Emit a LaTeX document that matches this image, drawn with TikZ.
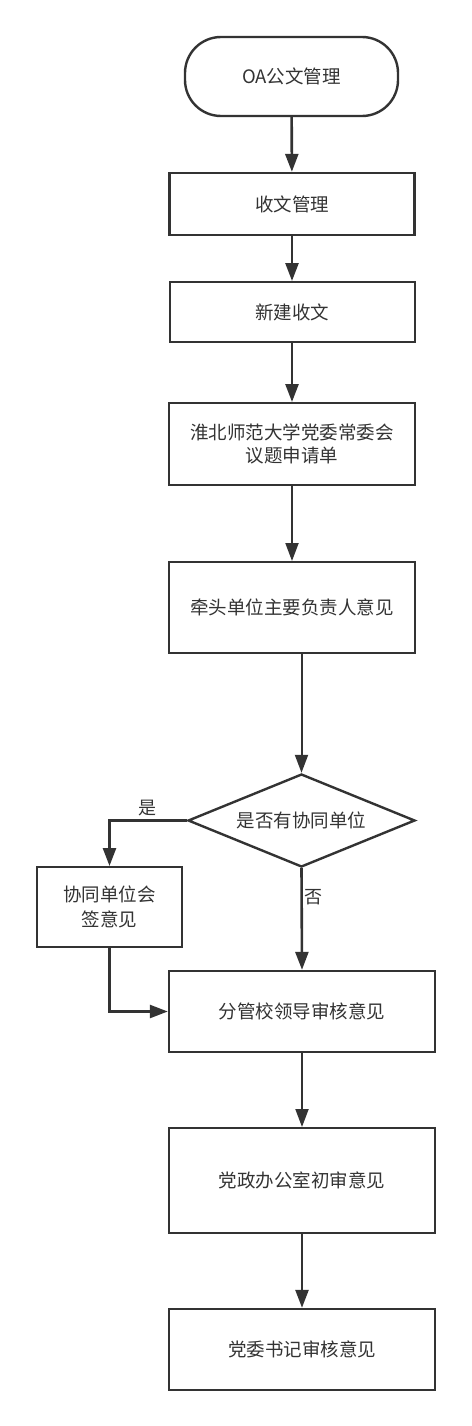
\documentclass[tikz,border=0pt]{standalone}
\usepackage{fontspec}
\setmainfont{Noto Sans CJK SC}
\usetikzlibrary{arrows.meta,shapes.geometric,calc}
\definecolor{ink}{HTML}{333333}
\begin{document}
\begin{tikzpicture}[x=1pt,y=-1pt,
  every node/.style={font=\fontsize{18.5}{24}\selectfont, text=ink},
  box/.style={draw=ink, line width=2.4pt, rectangle, inner sep=0pt, align=center},
  thinbox/.style={box, line width=2pt},
  term/.style={box, rounded corners=36pt},
  decision/.style={draw=ink, line width=2.4pt, diamond, aspect=2.4, inner sep=0pt},
  flow/.style={draw=ink, line width=2.6pt, -{Triangle[length=18pt,width=13pt]}},
  thinflow/.style={flow, line width=2pt},
  lbl/.style={font=\fontsize{18}{22}\selectfont}
]
\useasboundingbox (0,0) rectangle (471,1426);

\node[term, minimum width=213pt, minimum height=79pt] (t) at (291.5,76.5) {OA公文管理};
\node[box, minimum width=245pt, minimum height=62pt] (b1) at (292,204) {收文管理};
\node[thinbox, minimum width=245pt, minimum height=60pt] (b2) at (292,312) {新建收文};
\node[thinbox, minimum width=246pt, minimum height=82pt] (b3) at (292,444) {淮北师范大学党委常委会\\[-1pt]议题申请单};
\node[thinbox, minimum width=246pt, minimum height=91pt] (b4) at (292,607.5) {牵头单位主要负责人意见};
\node[decision, minimum width=227pt, minimum height=93pt] (d) at (301.5,820.5) {是否有协同单位};
\node[thinbox, minimum width=145pt, minimum height=80pt, font=\fontsize{18.5}{25}\selectfont] (c) at (109.5,907) {协同单位会\\签意见};
\node[box, minimum width=266pt, minimum height=81pt] (b5) at (302,1011.5) {分管校领导审核意见};
\node[thinbox, minimum width=266pt, minimum height=105pt] (b6) at (302,1180.5) {党政办公室初审意见};
\node[box, minimum width=266pt, minimum height=81pt] (b7) at (302,1349.5) {党委书记审核意见};

\draw[flow] (t) -- (b1);
\draw[flow] (b1) -- (b2);
\draw[flow] (b2) -- (b3);
\draw[thinflow] (b3) -- (b4);
\draw[thinflow] (d.north |- b4.south) -- (d.north);
\draw[flow] (d.west) -| (c.north);
\draw[flow] (d.south) -- (b5.north);
\draw[flow] (c.south) |- (b5.west);
\draw[thinflow] (b5) -- (b6);
\draw[flow] (b6) -- (b7);

\node[lbl] (yes) at (147,808) {是};
\node[lbl] (no) at (313,897) {否};
\end{tikzpicture}
\end{document}
